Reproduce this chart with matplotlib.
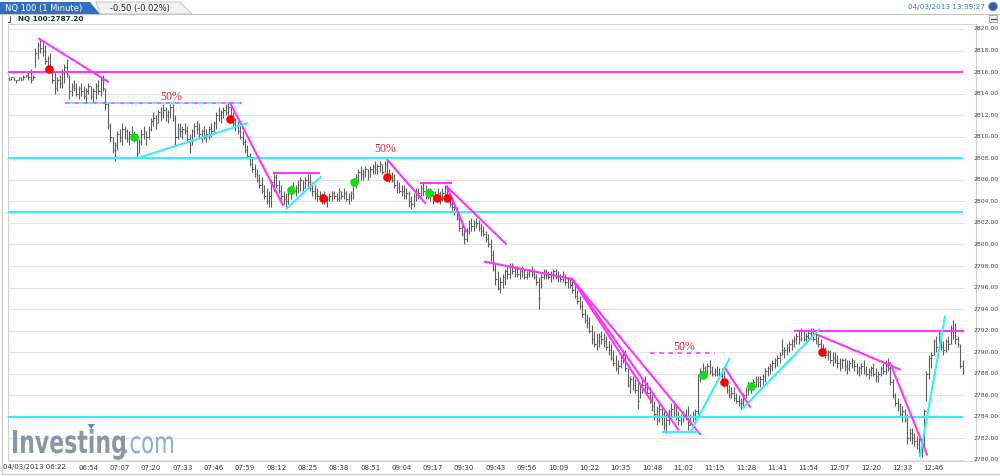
import numpy as np
import matplotlib
matplotlib.use("Agg")
import matplotlib.pyplot as plt
from matplotlib.patches import Rectangle, Polygon, PathPatch, Circle
from matplotlib.textpath import TextPath
from matplotlib.font_manager import FontProperties
from matplotlib.transforms import Affine2D, blended_transform_factory

W, H = 1000, 476

# 1-minute bars (bar index on x)
highs = [
    2815.50, 2815.50, 2815.50, 2815.25, 2815.50, 2815.50, 2815.75, 2815.75, 2816.00, 2816.25,
    2815.75, 2818.25, 2818.75, 2819.00, 2818.75, 2818.50, 2817.50, 2817.75, 2816.50, 2816.00,
    2815.50, 2815.75, 2816.25, 2816.75, 2817.25, 2815.75, 2815.00, 2815.25, 2815.00, 2814.75,
    2815.00, 2814.75, 2814.50, 2815.00, 2814.75, 2814.50, 2815.00, 2815.25, 2815.50, 2815.75,
    2814.50, 2813.25, 2811.25, 2810.00, 2809.50, 2810.50, 2810.75, 2811.25, 2811.00, 2810.75,
    2810.50, 2811.00, 2810.50, 2810.25, 2809.75, 2810.75, 2811.00, 2810.50, 2811.00, 2811.75,
    2812.25, 2812.00, 2812.50, 2812.75, 2813.00, 2812.75, 2812.50, 2813.00, 2813.00, 2812.00,
    2811.25, 2811.25, 2811.00, 2811.25, 2811.00, 2810.25, 2810.75, 2811.25, 2811.50, 2811.25,
    2810.75, 2811.00, 2810.75, 2811.00, 2811.25, 2811.50, 2812.25, 2812.75, 2812.50, 2812.75,
    2813.00, 2813.25, 2813.00, 2812.25, 2811.75, 2811.50, 2811.00, 2810.50, 2809.75, 2809.25,
    2808.50, 2808.00, 2807.50, 2807.00, 2806.50, 2806.25, 2805.50, 2805.25, 2805.00, 2806.00,
    2806.50, 2806.50, 2806.00, 2805.50, 2805.00, 2804.75, 2805.00, 2805.50, 2805.75, 2805.50,
    2806.00, 2806.25, 2806.00, 2806.25, 2806.50, 2806.50, 2805.75, 2805.50, 2805.25, 2805.00,
    2804.75, 2805.00, 2804.50, 2804.75, 2805.00, 2805.00, 2804.75, 2805.25, 2805.00, 2805.25,
    2805.00, 2804.75, 2805.00, 2805.75, 2806.50, 2807.00, 2807.25, 2807.00, 2807.25, 2807.00,
    2807.25, 2807.50, 2807.75, 2807.50, 2807.75, 2807.50, 2807.75, 2807.75, 2807.00, 2806.75,
    2806.50, 2806.00, 2805.75, 2805.50, 2805.50, 2805.25, 2805.00, 2804.50, 2804.75, 2805.25,
    2805.25, 2805.50, 2805.75, 2805.50, 2805.25, 2805.25, 2805.00, 2805.00, 2805.25, 2805.00,
    2805.25, 2805.50, 2805.50, 2804.75, 2804.25, 2803.75, 2803.50, 2803.00, 2802.25, 2801.75,
    2801.50, 2802.25, 2802.50, 2802.25, 2802.50, 2802.25, 2802.00, 2801.75, 2801.25, 2801.00,
    2800.50, 2799.50, 2798.25, 2797.50, 2797.00, 2797.25, 2797.75, 2798.00, 2798.25, 2798.25,
    2798.00, 2798.00, 2797.75, 2798.00, 2797.75, 2797.50, 2797.75, 2798.00, 2797.75, 2797.25,
    2797.00, 2797.25, 2797.75, 2797.75, 2797.50, 2797.50, 2797.75, 2797.75, 2797.50, 2797.25,
    2797.50, 2797.25, 2797.00, 2797.00, 2796.75, 2796.25, 2795.75, 2795.25, 2794.75, 2794.00,
    2793.50, 2793.25, 2792.50, 2792.00, 2791.75, 2791.75, 2792.00, 2791.75, 2791.50, 2791.00,
    2790.75, 2790.25, 2789.75, 2789.25, 2789.75, 2790.25, 2790.25, 2788.50, 2787.75, 2787.75,
    2787.50, 2787.25, 2787.00, 2787.50, 2787.75, 2787.25, 2786.75, 2786.00, 2785.50, 2785.00,
    2785.25, 2785.00, 2784.50, 2784.25, 2784.75, 2785.25, 2785.50, 2785.00, 2784.50, 2784.25,
    2784.50, 2784.75, 2785.00, 2784.25, 2784.50, 2784.75, 2788.00, 2788.50, 2789.00, 2788.75,
    2789.00, 2789.25, 2788.75, 2788.50, 2788.75, 2788.50, 2788.50, 2788.25, 2787.50, 2787.00,
    2786.75, 2786.75, 2786.25, 2786.00, 2785.75, 2786.25, 2786.75, 2787.25, 2787.25, 2787.50,
    2787.75, 2787.75, 2787.75, 2788.00, 2788.50, 2788.75, 2789.00, 2789.25, 2789.50, 2789.75,
    2790.00, 2791.25, 2790.50, 2790.75, 2791.00, 2791.25, 2791.50, 2791.75, 2792.00, 2792.25,
    2792.00, 2791.75, 2792.00, 2792.25, 2792.25, 2791.75, 2791.50, 2791.25, 2790.75, 2790.50,
    2790.25, 2790.25, 2790.00, 2790.00, 2789.75, 2789.50, 2789.50, 2789.50, 2789.25, 2789.25,
    2789.50, 2789.25, 2789.00, 2788.75, 2789.00, 2789.25, 2788.75, 2788.50, 2788.75, 2789.00,
    2788.50, 2788.25, 2788.75, 2789.00, 2789.25, 2789.50, 2789.00, 2787.50, 2786.25, 2785.75,
    2785.25, 2785.00, 2784.75, 2784.25, 2783.00, 2783.00, 2782.50, 2782.25, 2782.00, 2781.50,
    2784.75, 2788.25, 2789.75, 2790.00, 2791.25, 2791.50, 2792.00, 2791.50, 2791.00, 2791.25,
    2791.50, 2792.50, 2793.00, 2792.75, 2791.50, 2790.75, 2789.25,
]
lows = [
    2815.25, 2815.25, 2815.25, 2815.00, 2815.25, 2815.25, 2815.25, 2815.50, 2815.25, 2815.00,
    2815.25, 2816.50, 2817.25, 2817.75, 2817.50, 2816.75, 2816.25, 2816.00, 2815.00, 2814.00,
    2814.25, 2814.50, 2814.50, 2815.00, 2815.50, 2813.50, 2813.75, 2814.25, 2813.75, 2813.50,
    2813.75, 2813.50, 2813.25, 2814.00, 2813.50, 2813.25, 2813.50, 2814.00, 2813.75, 2814.25,
    2812.50, 2810.75, 2809.50, 2808.50, 2807.75, 2808.75, 2809.50, 2809.25, 2809.75, 2809.50,
    2809.25, 2809.75, 2809.50, 2808.00, 2808.50, 2809.25, 2809.75, 2809.25, 2809.75, 2810.50,
    2811.00, 2810.75, 2811.25, 2811.50, 2811.75, 2811.50, 2811.25, 2811.75, 2811.50, 2809.25,
    2809.75, 2810.00, 2809.75, 2810.25, 2809.50, 2808.50, 2809.25, 2810.00, 2810.25, 2809.75,
    2809.50, 2809.75, 2809.50, 2809.75, 2810.00, 2810.25, 2810.75, 2811.50, 2811.25, 2811.75,
    2812.00, 2812.00, 2811.50, 2811.00, 2810.50, 2810.25, 2809.75, 2809.25, 2808.50, 2808.00,
    2807.25, 2806.75, 2806.25, 2805.75, 2805.25, 2804.75, 2804.25, 2803.75, 2803.50, 2803.50,
    2805.00, 2805.25, 2804.75, 2804.25, 2803.75, 2803.50, 2803.75, 2804.25, 2804.75, 2804.50,
    2804.75, 2805.00, 2805.00, 2805.25, 2805.25, 2805.00, 2804.50, 2804.25, 2804.00, 2804.00,
    2803.75, 2803.75, 2803.50, 2804.00, 2804.00, 2804.25, 2804.00, 2804.00, 2804.25, 2804.25,
    2804.00, 2803.75, 2804.00, 2804.25, 2805.25, 2805.75, 2806.00, 2806.00, 2806.25, 2806.00,
    2806.25, 2806.50, 2806.50, 2806.50, 2806.75, 2806.50, 2806.75, 2806.25, 2805.75, 2805.75,
    2805.25, 2804.75, 2804.75, 2804.50, 2804.25, 2804.25, 2803.50, 2803.25, 2803.50, 2804.00,
    2804.25, 2804.50, 2804.50, 2804.25, 2804.25, 2804.00, 2803.75, 2804.00, 2804.00, 2803.75,
    2804.00, 2804.25, 2804.00, 2803.50, 2803.00, 2802.75, 2802.25, 2801.25, 2800.75, 2800.00,
    2800.25, 2801.00, 2801.25, 2801.25, 2801.50, 2801.25, 2800.75, 2800.75, 2800.25, 2799.75,
    2798.50, 2797.50, 2796.25, 2795.75, 2795.50, 2796.00, 2796.25, 2796.75, 2796.75, 2797.25,
    2797.00, 2797.00, 2796.75, 2797.00, 2796.75, 2796.75, 2797.00, 2797.00, 2796.75, 2796.25,
    2794.00, 2796.00, 2796.75, 2796.75, 2796.75, 2796.50, 2796.75, 2796.75, 2796.50, 2796.50,
    2796.50, 2796.25, 2796.00, 2796.00, 2795.50, 2795.00, 2794.50, 2794.00, 2793.25, 2792.75,
    2792.25, 2791.75, 2790.75, 2790.50, 2790.25, 2790.50, 2790.75, 2790.50, 2790.25, 2789.75,
    2789.25, 2788.75, 2788.25, 2788.00, 2788.50, 2789.00, 2788.25, 2786.75, 2786.25, 2786.50,
    2786.25, 2784.75, 2785.75, 2786.25, 2786.25, 2786.00, 2785.25, 2784.50, 2783.75, 2783.25,
    2783.50, 2783.25, 2782.75, 2782.50, 2783.25, 2783.75, 2784.00, 2783.75, 2783.25, 2783.25,
    2783.50, 2783.75, 2782.75, 2783.25, 2783.50, 2783.75, 2784.00, 2787.25, 2787.75, 2787.75,
    2788.00, 2788.00, 2787.75, 2787.75, 2787.75, 2787.50, 2787.25, 2786.75, 2786.25, 2785.75,
    2785.75, 2785.50, 2785.25, 2785.00, 2784.75, 2785.00, 2785.75, 2786.00, 2786.25, 2786.50,
    2786.75, 2786.75, 2786.75, 2787.00, 2787.25, 2787.75, 2788.00, 2788.25, 2788.50, 2788.75,
    2789.00, 2789.75, 2789.50, 2789.75, 2790.00, 2790.25, 2790.50, 2790.75, 2790.75, 2791.00,
    2791.00, 2790.75, 2791.00, 2791.25, 2791.00, 2790.75, 2790.50, 2790.00, 2789.75, 2789.50,
    2789.25, 2789.00, 2788.75, 2789.00, 2788.50, 2788.25, 2788.50, 2788.25, 2788.00, 2788.25,
    2788.50, 2788.25, 2788.00, 2787.75, 2788.00, 2788.00, 2787.75, 2787.50, 2787.75, 2787.75,
    2787.25, 2787.25, 2787.75, 2788.00, 2788.00, 2788.25, 2787.00, 2785.75, 2785.00, 2784.50,
    2784.00, 2783.50, 2783.50, 2781.50, 2781.75, 2781.50, 2781.25, 2781.00, 2780.50, 2780.25,
    2781.00, 2785.50, 2787.50, 2788.50, 2789.75, 2790.00, 2790.25, 2790.25, 2789.75, 2790.00,
    2790.25, 2790.75, 2791.25, 2790.75, 2790.50, 2788.50, 2788.00,
]
closes = [
    2815.25, 2815.50, 2815.25, 2815.25, 2815.50, 2815.25, 2815.50, 2815.75, 2815.50, 2815.25,
    2815.50, 2817.75, 2818.50, 2818.25, 2818.00, 2817.00, 2816.50, 2816.25, 2815.25, 2814.50,
    2815.25, 2815.00, 2816.00, 2816.50, 2815.75, 2814.25, 2814.75, 2814.50, 2814.00, 2814.50,
    2814.25, 2813.75, 2814.25, 2814.75, 2813.75, 2814.25, 2814.75, 2814.25, 2815.25, 2814.50,
    2813.00, 2811.00, 2810.00, 2808.75, 2809.25, 2810.25, 2810.00, 2810.75, 2810.50, 2809.75,
    2810.25, 2810.00, 2810.00, 2808.50, 2809.50, 2810.25, 2810.50, 2810.00, 2810.75, 2811.50,
    2811.75, 2811.25, 2812.25, 2812.00, 2812.50, 2812.00, 2812.25, 2812.75, 2811.75, 2810.00,
    2810.75, 2810.50, 2810.75, 2810.50, 2809.75, 2809.25, 2810.50, 2811.00, 2810.75, 2810.25,
    2810.50, 2810.00, 2810.25, 2810.75, 2810.50, 2811.25, 2812.00, 2812.00, 2812.25, 2812.50,
    2812.25, 2812.75, 2811.75, 2811.25, 2811.00, 2810.50, 2810.00, 2809.50, 2808.75, 2808.25,
    2807.50, 2807.00, 2806.50, 2806.00, 2805.50, 2805.00, 2804.50, 2804.00, 2804.50, 2805.75,
    2806.25, 2805.50, 2805.00, 2804.50, 2804.25, 2804.00, 2804.75, 2805.25, 2805.00, 2805.25,
    2805.50, 2806.00, 2805.25, 2806.00, 2805.75, 2805.25, 2805.00, 2804.75, 2804.50, 2804.25,
    2804.50, 2804.00, 2804.25, 2804.50, 2804.75, 2804.50, 2804.25, 2805.00, 2804.50, 2804.75,
    2804.25, 2804.50, 2804.75, 2805.50, 2806.25, 2806.75, 2806.50, 2806.75, 2807.00, 2806.25,
    2807.00, 2807.25, 2807.00, 2807.25, 2807.50, 2806.75, 2807.50, 2806.50, 2806.25, 2806.00,
    2805.50, 2805.25, 2805.00, 2805.00, 2804.50, 2804.75, 2804.00, 2803.75, 2804.50, 2805.00,
    2804.75, 2805.25, 2805.00, 2804.75, 2805.00, 2804.50, 2804.25, 2804.50, 2804.75, 2804.25,
    2804.75, 2805.25, 2804.25, 2803.75, 2803.50, 2803.00, 2802.50, 2801.50, 2801.00, 2800.50,
    2801.25, 2802.00, 2801.75, 2802.00, 2802.00, 2801.50, 2801.25, 2801.00, 2800.50, 2800.00,
    2799.00, 2797.75, 2796.75, 2796.00, 2796.50, 2797.00, 2797.50, 2797.25, 2798.00, 2797.50,
    2797.75, 2797.25, 2797.50, 2797.75, 2797.00, 2797.25, 2797.50, 2797.25, 2797.00, 2796.50,
    2795.00, 2797.00, 2797.50, 2797.25, 2797.00, 2797.25, 2797.50, 2797.00, 2797.00, 2796.75,
    2797.25, 2796.50, 2796.75, 2796.25, 2795.75, 2795.25, 2794.75, 2794.25, 2793.50, 2793.00,
    2792.75, 2792.00, 2791.25, 2790.75, 2791.00, 2791.50, 2791.25, 2791.00, 2790.50, 2790.25,
    2789.50, 2789.00, 2788.50, 2788.75, 2789.50, 2789.75, 2788.50, 2787.00, 2787.50, 2787.00,
    2786.50, 2785.50, 2786.75, 2787.00, 2786.75, 2786.25, 2785.50, 2785.00, 2784.25, 2783.75,
    2784.75, 2784.25, 2783.25, 2783.75, 2784.50, 2784.75, 2785.00, 2784.25, 2783.75, 2784.00,
    2784.25, 2784.00, 2783.25, 2784.00, 2784.25, 2784.50, 2787.75, 2788.25, 2788.50, 2788.25,
    2788.75, 2788.25, 2788.00, 2788.25, 2788.00, 2787.75, 2787.50, 2787.00, 2786.50, 2786.00,
    2786.25, 2785.75, 2785.50, 2785.25, 2785.25, 2786.00, 2786.50, 2786.75, 2787.00, 2787.25,
    2787.50, 2787.25, 2787.50, 2787.75, 2788.25, 2788.50, 2788.75, 2789.00, 2789.25, 2789.50,
    2789.75, 2790.25, 2790.25, 2790.50, 2790.75, 2791.00, 2791.25, 2791.50, 2791.25, 2792.00,
    2791.25, 2791.50, 2791.75, 2792.00, 2791.25, 2791.00, 2790.75, 2790.25, 2790.00, 2789.75,
    2790.00, 2789.25, 2789.50, 2789.25, 2789.00, 2788.50, 2789.25, 2788.75, 2788.50, 2789.00,
    2789.25, 2788.75, 2788.25, 2788.50, 2788.75, 2788.25, 2788.00, 2788.25, 2788.50, 2788.00,
    2787.75, 2788.00, 2788.50, 2788.25, 2788.75, 2788.50, 2787.25, 2786.00, 2785.25, 2785.00,
    2784.25, 2784.50, 2783.75, 2782.00, 2782.50, 2782.00, 2781.75, 2781.50, 2780.75, 2781.25,
    2784.50, 2788.00, 2789.50, 2789.75, 2791.00, 2790.50, 2791.75, 2790.50, 2790.25, 2791.00,
    2790.75, 2792.25, 2792.00, 2791.25, 2790.75, 2788.75, 2788.25,
]

# time labels every 13 bars starting at bar 33
first_label = "04/03/2013 06:22"
time_labels = ["06:54", "07:07", "07:20", "07:33", "07:46", "07:59", "08:12", "08:25",
               "08:38", "08:51", "09:04", "09:17", "09:30", "09:43", "09:56", "10:09",
               "10:22", "10:35", "10:48", "11:02", "11:15", "11:28", "11:41", "11:54",
               "12:07", "12:20", "12:33", "12:46"]
label_bars = [33 + 13 * k for k in range(len(time_labels))]
price_ticks = np.arange(2780, 2821, 2)

# drawn annotations (bar index, price)
full_hlines = [(2816.0, "#ff33ff"), (2808.0, "#33eeff"), (2803.0, "#33eeff"), (2784.0, "#33eeff")]
part_hlines = [(2792.0, 326.4, "#ff33ff")]
magenta_lines = [
    ((12.5, 2819.1), (41.1, 2815.1)),
    ((91.8, 2813.15), (113.8, 2803.65)),
    ((110.0, 2806.6), (128.7, 2806.6)),
    ((157.1, 2807.85), (172.8, 2803.85)),
    ((171.0, 2805.7), (183.4, 2805.7)),
    ((181.9, 2805.35), (206.4, 2800.05)),
    ((181.9, 2805.35), (189.8, 2801.2)),
    ((197.7, 2798.4), (233.8, 2796.8)),
    ((233.8, 2796.8), (266.9, 2785.4)),
    ((233.8, 2796.8), (278.0, 2782.8)),
    ((233.8, 2796.8), (287.0, 2782.4)),
    ((297.3, 2788.55), (307.7, 2784.95)),
    ((336.0, 2791.6), (370.0, 2788.4)),
    ((365.9, 2789.0), (381.2, 2780.5)),
]
cyan_lines = [
    ((53.2, 2808.0), (98.8, 2811.25)),
    ((115.3, 2803.35), (129.4, 2806.25)),
    ((271.6, 2782.6), (286.1, 2782.6)),
    ((283.1, 2782.65), (299.1, 2789.35)),
    ((304.7, 2784.8), (336.5, 2792.1)),
    ((378.3, 2780.35), (388.7, 2793.3)),
]
dashed_50 = [((23.3, 96.8), 2813.1, True), ((266.2, 293.2), 2789.9, False)]
pct_labels = [(67.3, 2813.7), (156.1, 2808.85), (280.3, 2790.5)]
red_x = [16.5, 91.8, 130.5, 156.9, 177.6, 181.8, 297.1, 337.5]
red_y = [2816.3, 2811.65, 2804.35, 2806.3, 2804.3, 2804.3, 2787.2, 2790.0]
green_x = [51.9, 117.0, 143.3, 174.5, 288.3, 308.0]
green_y = [2810.0, 2805.05, 2805.75, 2804.75, 2787.9, 2786.9]

MAG = "#ff33ff"
CYA = "#33eeff"

fig = plt.figure(figsize=(10, 4.76), dpi=100)
fig.patch.set_facecolor("white")
# pixel coordinates, origin top-left
PX = Affine2D().scale(1 / W, -1 / H).translate(0, 1) + fig.transFigure

# header tabs
fig.add_artist(Polygon([(0, 2), (90, 2), (100, 14), (0, 14)], closed=True,
                       facecolor="#2f6fbb", edgecolor="none", transform=PX))
fig.add_artist(Polygon([(96, 2), (180, 2), (192, 14), (100, 14)], closed=True,
                       facecolor="#f3f3f3", edgecolor="#c4c4c4", lw=0.7, transform=PX))
fig.add_artist(plt.Line2D([0, 1000], [14, 14], color="#c4c4c4", lw=0.8, transform=PX))
fig.text(5, 8.5, "NQ 100 (1 Minute)", color="white", fontsize=6, va="center", transform=PX)
fig.text(110, 8.5, "-0.50 (-0.02%)", color="#222222", fontsize=6, va="center", transform=PX)
fig.text(18, 19, "NQ 100:2787.20", color="#1c2a3a", fontsize=5.2, fontweight="bold",
         va="center", transform=PX)
fig.add_artist(plt.Line2D([10, 10, 8], [15.5, 22, 22], color="#333333", lw=0.6, transform=PX))
fig.text(985, 7, "04/03/2013 13:39:27", color="#3a78c2", fontsize=5.2, ha="right",
         va="center", transform=PX)
fig.add_artist(Circle((993, 6.5), 4.5, facecolor="#2a5ea8", edgecolor="#9bb5d8", lw=0.6,
                      transform=PX))
fig.add_artist(Rectangle((989, 14.5), 8, 7, facecolor="#eeeeee", edgecolor="#888888",
                         lw=0.5, transform=PX))
fig.add_artist(plt.Line2D([990.5, 995.5], [19, 19], color="#444444", lw=0.8, transform=PX))

# chart panel
fig.add_artist(Rectangle((8, 24), 968, 437, facecolor="white", edgecolor="#d2d2d2",
                         lw=0.8, transform=PX, zorder=-1))
fig.add_artist(plt.Line2D([1.5, 1.5, 1000], [14, 474, 474], color="#c8c8c8", lw=0.9,
                          transform=PX, zorder=-1))

ax = fig.add_axes([8 / W, 1 - 462 / H, 957 / W, 438 / H])
ax.set_facecolor("none")
for s in ax.spines.values():
    s.set_visible(False)
ax.set_xticks([])
ax.set_yticks([])
x0, x1 = -0.42, 397.0
ax.set_xlim(x0, x1)
ax.set_ylim(2779.81, 2820.46)

ax.hlines(price_ticks, x0, x1, colors="#e3e3e3", lw=0.8, zorder=0)

# logo
def logo_part(text, weight, color, left, right, baseline, sy):
    tp = TextPath((0, 0), text, size=1, prop=FontProperties(family="DejaVu Sans", weight=weight))
    bb = tp.get_extents()
    sx = (right - left) / bb.width
    tr = Affine2D().translate(-bb.x0, 0).scale(sx, -sy).translate(left, baseline) + PX
    fig.add_artist(PathPatch(tp, facecolor=color, edgecolor="none", transform=tr, zorder=0.5))

logo_part("Investing", "bold", "#8797a8", 13, 125, 453, 31.5)
logo_part(".com", "normal", "#86aedb", 125, 173, 453, 30)
fig.add_artist(Polygon([(87.5, 424), (95, 424), (91.2, 429)], closed=True,
                       facecolor="#4f8bd0", edgecolor="none", transform=PX, zorder=0.6))

# OHLC bars (high-low + close tick)
bars_x = np.arange(len(highs))
ax.vlines(bars_x, lows, highs, colors="#5c5c5c", lw=0.8, zorder=2)
ax.hlines(closes, bars_x, bars_x + 0.6, colors="#5c5c5c", lw=0.8, zorder=2)

# drawn studies
for price, col in full_hlines:
    ax.plot([x0, x1 - 0.8], [price, price], color=col, lw=1.5, zorder=3,
            solid_capstyle="butt")
for price, start, col in part_hlines:
    ax.plot([start, x1 - 0.8], [price, price], color=col, lw=1.5, zorder=3)
for (xa, ya), (xb, yb) in magenta_lines:
    ax.plot([xa, xb], [ya, yb], color=MAG, lw=1.5, zorder=3)
for (xa, ya), (xb, yb) in cyan_lines:
    ax.plot([xa, xb], [ya, yb], color=CYA, lw=1.5, zorder=3)
for (xa, xb), price, two_tone in dashed_50:
    ax.plot([xa, xb], [price, price], color=MAG, lw=1.1, ls=(0, (3, 3)), zorder=3)
    if two_tone:
        ax.plot([xa, xb], [price, price], color=CYA, lw=1.1, ls=(3, (3, 3)), zorder=3)
for xp, yp in pct_labels:
    ax.text(xp, yp, "50%", color="#ee2222", fontsize=8.5, family="Liberation Serif",
            ha="center", va="center", zorder=4)

ax.plot(red_x, red_y, "o", color="#ff0000", ms=6.2, mec="none", zorder=5)
ax.plot(green_x, green_y, "o", color="#11dd11", ms=6.2, mec="none", zorder=5)

# price labels on the right
ytr = blended_transform_factory(PX, ax.transData)
for v in price_ticks:
    fig.text(998.5, v, f"{v:.2f}", color="#444444", fontsize=4.4, ha="right", va="center",
             transform=ytr)

# time labels at the bottom
xtr = blended_transform_factory(ax.transData, PX)
fig.text(3, 467.5, first_label, color="#333333", fontsize=5, va="center", transform=PX)
for b, lab in zip(label_bars, time_labels):
    fig.text(b, 467.5, lab, color="#333333", fontsize=5, ha="center", va="center", transform=xtr)

fig.savefig("out.png", dpi=100, facecolor="white")
